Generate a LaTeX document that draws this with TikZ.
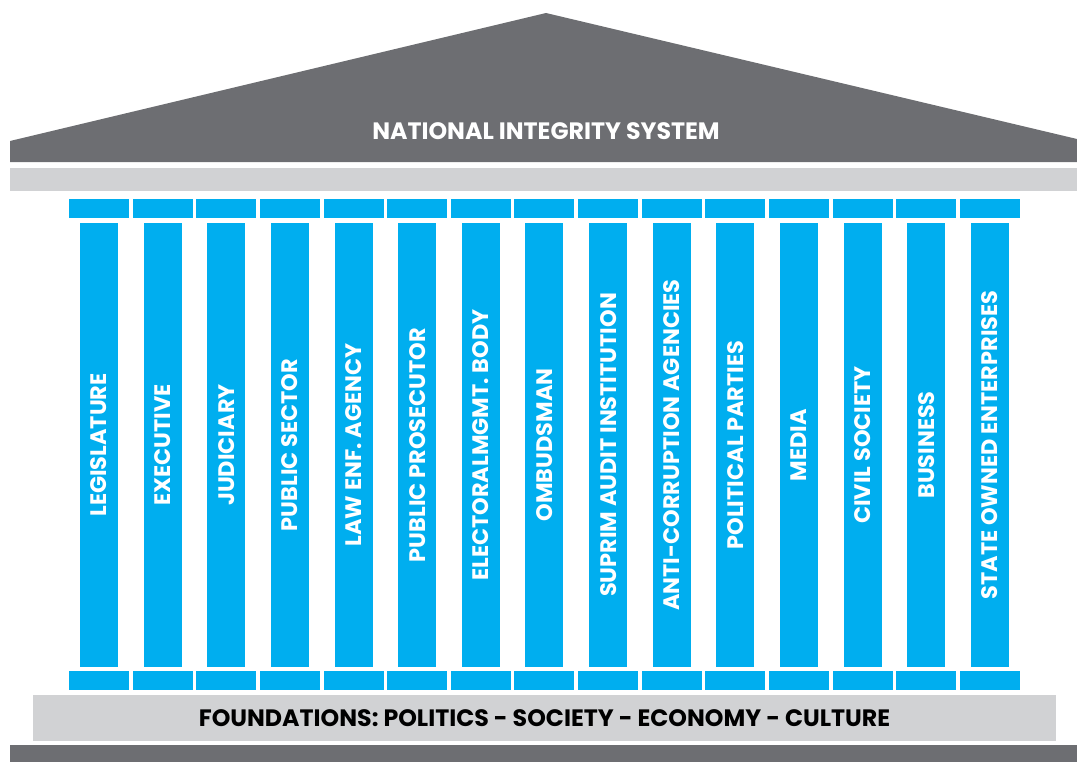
\documentclass[tikz,border=0pt]{standalone}
\usepackage{fontspec}
\newfontfamily\pfont{Poppins}
\definecolor{roofgray}{HTML}{6D6E72}
\definecolor{bandgray}{HTML}{D1D2D4}
\definecolor{pillarblue}{HTML}{00AEEF}
\tikzset{
  x=1bp, y=-1bp,
  block/.style={fill=#1, draw=none, inner sep=0pt, outer sep=0pt, anchor=north west},
  capbox/.style={block=pillarblue, minimum width=60bp, minimum height=19bp},
  shaft/.style={block=pillarblue, minimum width=38bp, minimum height=444bp},
  pillartext/.style={text=white, rotate=90, font=\pfont\bfseries\fontsize{22.5}{22.5}\selectfont, inner sep=0pt},
  bigtext/.style={font=\pfont\bfseries\fontsize{23.8}{23.8}\selectfont, inner sep=0pt}
}
\begin{document}
\begin{tikzpicture}
\useasboundingbox (0,0) rectangle (1077,762);
% roof
\fill[roofgray] (10,162) -- (10,141) -- (546,13) -- (1077,139) -- (1077,162) -- cycle;
\node[bigtext, text=white] (title) at (546,131) {NATIONAL INTEGRITY SYSTEM};
% architrave band
\node[block=bandgray, minimum width=1067bp, minimum height=23bp] (band) at (10,168) {};
% pillars
\foreach \lab [count=\i from 0] in {LEGISLATURE, EXECUTIVE, JUDICIARY, PUBLIC SECTOR, LAW ENF. AGENCY, PUBLIC PROSECUTOR, ELECTORALMGMT. BODY, OMBUDSMAN, SUPRIM AUDIT INSTITUTION, ANTI-CORRUPTION AGENCIES, POLITICAL PARTIES, MEDIA, CIVIL SOCIETY, BUSINESS, STATE OWNED ENTERPRISES}{
  \pgfmathsetmacro{\cx}{69+63.64*\i}
  \pgfmathsetmacro{\sx}{\cx+11}
  \node[capbox] (topcap\i) at (\cx,199) {};
  \node[shaft] (shaft\i) at (\sx,223) {};
  \node[capbox] (botcap\i) at (\cx,671) {};
  \node[pillartext] (lab\i) at (shaft\i.center) {\lab};
}
% foundation
\node[block=bandgray, minimum width=1023bp, minimum height=46bp] (found) at (33,695) {};
\node[bigtext, text=black] (foundtext) at (found.center) {FOUNDATIONS: POLITICS - SOCIETY - ECONOMY - CULTURE};
% base
\node[block=roofgray, minimum width=1067bp, minimum height=17bp] (base) at (10,745) {};
\end{tikzpicture}
\end{document}
